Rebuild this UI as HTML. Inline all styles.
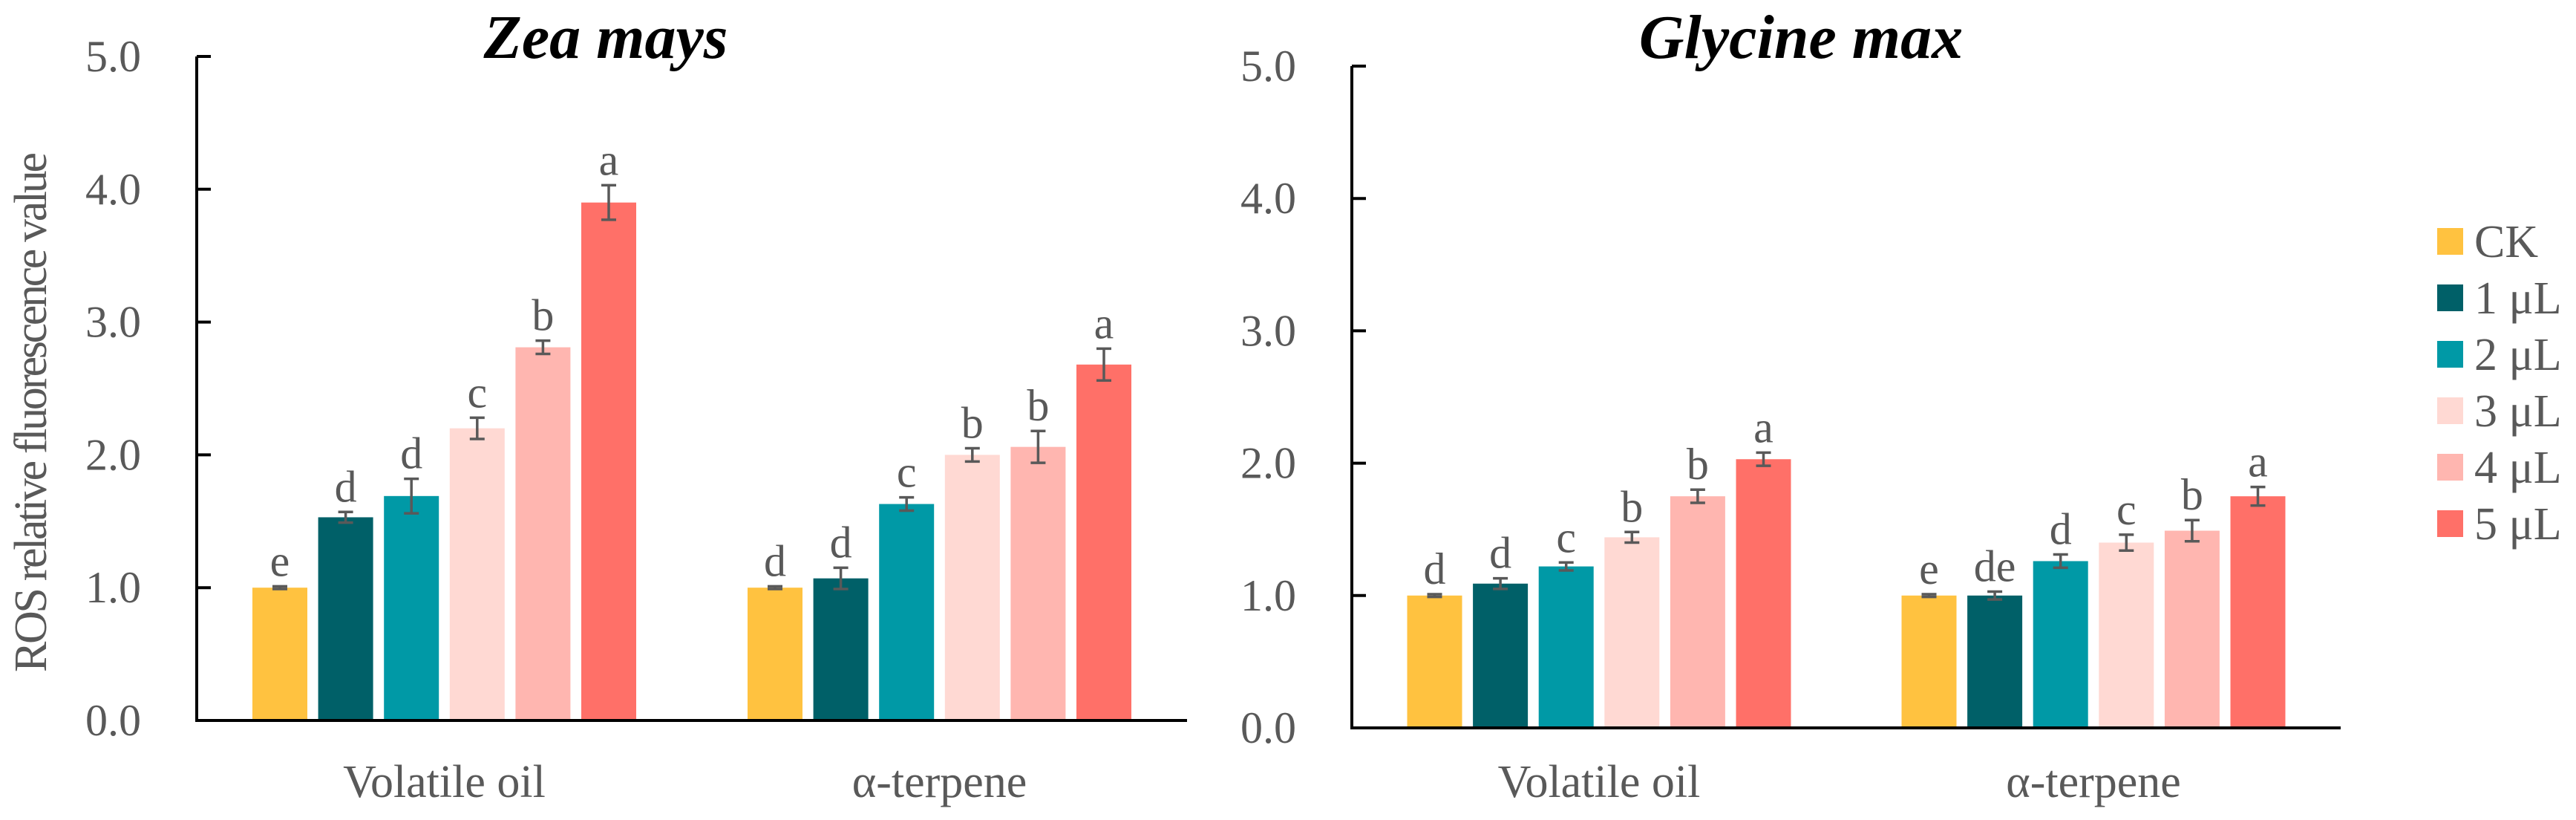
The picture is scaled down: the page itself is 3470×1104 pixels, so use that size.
<!DOCTYPE html>
<html><head><meta charset="utf-8"><style>
html,body{margin:0;padding:0;background:#fff;}
svg{display:block;}
text{font-family:"Liberation Serif",serif;}
</style></head><body>
<svg id="chart" width="3470" height="1104" viewBox="0 0 3470 1104" xmlns="http://www.w3.org/2000/svg">
<rect width="3470" height="1104" fill="#fff"/>
<text transform="translate(62,555) rotate(-90)" text-anchor="middle" font-size="62" fill="#595959" textLength="700" lengthAdjust="spacing">ROS relative fluorescence value</text>
<g id="legend"></g>
</svg>
<script>
const categories = ["Volatile oil", "α-terpene"];
const seriesNames = ["CK", "1 μL", "2 μL", "3 μL", "4 μL", "5 μL"];
const seriesColors = ["#FFC240", "#006068", "#0099A6", "#FFD9D3", "#FFB6B0", "#FF7068"];
const yTicks = [0, 1, 2, 3, 4, 5];
const yTickLabels = ["0.0", "1.0", "2.0", "3.0", "4.0", "5.0"];

const zeaVolatile = [1.0, 1.53, 1.69, 2.20, 2.81, 3.90];
const zeaVolatileErr = [0.01, 0.04, 0.13, 0.08, 0.05, 0.13];
const zeaVolatileLetters = ["e", "d", "d", "c", "b", "a"];
const zeaTerpene = [1.0, 1.07, 1.63, 2.0, 2.06, 2.68];
const zeaTerpeneErr = [0.01, 0.08, 0.05, 0.05, 0.12, 0.12];
const zeaTerpeneLetters = ["d", "d", "c", "b", "b", "a"];

const glyVolatile = [1.0, 1.09, 1.22, 1.44, 1.75, 2.03];
const glyVolatileErr = [0.01, 0.04, 0.03, 0.04, 0.05, 0.05];
const glyVolatileLetters = ["d", "d", "c", "b", "b", "a"];
const glyTerpene = [1.0, 1.0, 1.26, 1.40, 1.49, 1.75];
const glyTerpeneErr = [0.01, 0.03, 0.05, 0.06, 0.08, 0.07];
const glyTerpeneLetters = ["e", "de", "d", "c", "b", "a"];

const NS = "http://www.w3.org/2000/svg";
const svg = document.getElementById("chart");
function mk(tag, attrs, parent) {
  const e = document.createElementNS(NS, tag);
  for (const k in attrs) e.setAttribute(k, attrs[k]);
  (parent || svg).appendChild(e);
  return e;
}

function drawPanel(cfg) {
  const g = mk("g", {});
  
  
  const yMax = 5;
  const yScale = v => cfg.y0 - (v / yMax) * (cfg.y0 - cfg.yTop);
  const catW = (cfg.x1 - cfg.x0) / categories.length;
  const xCenter = i => cfg.x0 + catW * (i + 0.5);
  const step = 88.6, bw = 74;

  const title = mk("text", {x: cfg.titleX, y: 78, "text-anchor": "middle", "font-size": 84, "font-weight": "bold", "font-style": "italic", fill: "#000"}, g);
  title.textContent = cfg.title;
  
  

  const groups = [[cfg.v0, cfg.e0, cfg.l0], [cfg.v1, cfg.e1, cfg.l1]];
  groups.forEach((grp, ci) => {
    const start = xCenter(ci) - (step * 5 + bw) / 2;
    grp[0].forEach((v, si) => {
      const x = start + si * step;
      const bar = mk("rect", {x: x, y: yScale(v), width: bw, height: cfg.y0 - yScale(v), fill: seriesColors[si]}, g);
      
      
      const cx = x + bw / 2, err = grp[1][si];
      const eb = mk("path", {d: `M${cx-10},${yScale(v+err)}H${cx+10}M${cx},${yScale(v+err)}V${yScale(v-err)}M${cx-10},${yScale(v-err)}H${cx+10}`, stroke: "#595959", "stroke-width": 3.5, fill: "none"}, g);
      
      
      const lt = mk("text", {x: cx, y: yScale(v + err) - 14, "text-anchor": "middle", "font-size": 60, fill: "#595959"}, g);
      lt.textContent = grp[2][si];
      
      
    });
    const xl = mk("text", {x: xCenter(ci), y: 1073, "text-anchor": "middle", "font-size": 62, fill: "#595959"}, g);
    xl.textContent = categories[ci];
    
    
  });

  yTicks.forEach((t, i) => {
    const y = yScale(t);
    if (t > 0) {
      const tk = mk("line", {x1: cfg.x0, x2: cfg.x0 + 19, y1: y, y2: y, stroke: "#000", "stroke-width": 4}, g);
      
      
    }
    const tl = mk("text", {x: cfg.x0 - 75, y: y + 20, "text-anchor": "end", "font-size": 60, fill: "#595959"}, g);
    tl.textContent = yTickLabels[i];
    
    
  });
  const ya = mk("line", {x1: cfg.x0, x2: cfg.x0, y1: cfg.yTop, y2: cfg.y0 + 2, stroke: "#000", "stroke-width": 4}, g);
  
  
  const xa = mk("line", {x1: cfg.x0 - 2, x2: cfg.x1, y1: cfg.y0, y2: cfg.y0, stroke: "#000", "stroke-width": 4}, g);
  
  
}

drawPanel({name: "zea-mays", title: "Zea mays", titleX: 816, x0: 265, x1: 1599, y0: 970, yTop: 76,
  v0: zeaVolatile, e0: zeaVolatileErr, l0: zeaVolatileLetters, v1: zeaTerpene, e1: zeaTerpeneErr, l1: zeaTerpeneLetters});
drawPanel({name: "glycine-max", title: "Glycine max", titleX: 2426, x0: 1821, x1: 3153, y0: 980, yTop: 89,
  v0: glyVolatile, e0: glyVolatileErr, l0: glyVolatileLetters, v1: glyTerpene, e1: glyTerpeneErr, l1: glyTerpeneLetters});

const legend = document.getElementById("legend");
seriesNames.forEach((n, i) => {
  const cy = 325 + i * 76;
  const sw = mk("rect", {x: 3283, y: cy - 18, width: 35, height: 36, fill: seriesColors[i]}, legend);
  
  
  const t = mk("text", {x: 3333, y: cy + 21, "font-size": 62, fill: "#595959"}, legend);
  t.textContent = n;
  
  
});
</script>
</body></html>
